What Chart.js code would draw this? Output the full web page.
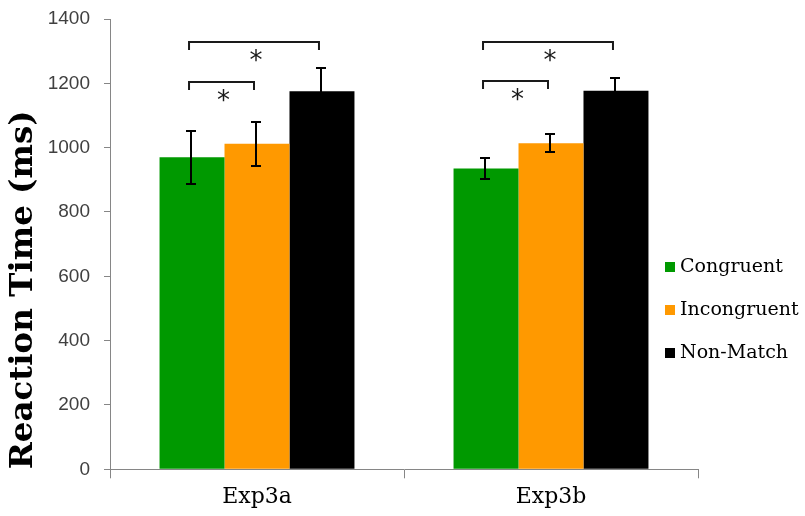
<!DOCTYPE html>
<html>
<head>
<meta charset="utf-8">
<script src="https://cdn.jsdelivr.net/npm/chart.js@4/dist/chart.umd.min.js"></script>
<style>
  html, body { margin: 0; padding: 0; background: #fff; }
  #wrap { width: 805px; height: 516px; }
</style>
</head>
<body>
<div id="wrap"><canvas id="c" width="805" height="516"></canvas></div>
<script>
// Mean reaction times (ms) and standard errors per condition
const experiments = ['Exp3a', 'Exp3b'];
const conditions = ['Congruent', 'Incongruent', 'Non-Match'];
const congruentRT = [970, 935];
const incongruentRT = [1012, 1014];
const nonMatchRT = [1175, 1177];
const congruentErr = [82, 34];
const incongruentErr = [68, 27];
const nonMatchErr = [73, 41];
const yTicks = [0, 200, 400, 600, 800, 1000, 1200, 1400];

// Significant pairwise comparisons: experiment index, condition pair, bracket height (ms)
const sigExperiment = [0, 0, 1, 1];
const sigFrom = [0, 0, 0, 0];
const sigTo = [2, 1, 2, 1];
const sigLevel = [1328, 1205, 1330, 1206];
const sigMark = ['*', '*', '*', '*'];

const colors = ['#009900', '#FF9900', '#000000'];
const means = [congruentRT, incongruentRT, nonMatchRT];
const errors = [congruentErr, incongruentErr, nonMatchErr];

const errorBars = {
  id: 'errorBars',
  afterDatasetsDraw(chart) {
    const ctx = chart.ctx;
    const y = chart.scales.y;
    ctx.save();
    ctx.strokeStyle = '#000';
    ctx.lineWidth = 2;
    chart.data.datasets.forEach((ds, i) => {
      const meta = chart.getDatasetMeta(i);
      meta.data.forEach((bar, j) => {
        const hi = Math.round(y.getPixelForValue(ds.data[j] + ds.errs[j]));
        const lo = Math.round(y.getPixelForValue(ds.data[j] - ds.errs[j]));
        const x = Math.round(bar.x) - 1;
        ctx.beginPath();
        ctx.moveTo(x, hi); ctx.lineTo(x, lo);
        ctx.moveTo(x - 5, hi); ctx.lineTo(x + 5, hi);
        ctx.moveTo(x - 5, lo); ctx.lineTo(x + 5, lo);
        ctx.stroke();
      });
    });
    ctx.restore();
  }
};

const sigBrackets = {
  id: 'sigBrackets',
  afterDatasetsDraw(chart) {
    const ctx = chart.ctx;
    const y = chart.scales.y;
    ctx.save();
    ctx.strokeStyle = '#1a1a1a';
    ctx.fillStyle = '#1a1a1a';
    ctx.lineWidth = 2;
    ctx.font = '26px "DejaVu Sans"';
    ctx.textAlign = 'center';
    ctx.textBaseline = 'middle';
    sigLevel.forEach((lvl, k) => {
      const e = sigExperiment[k];
      const x1 = chart.getDatasetMeta(sigFrom[k]).data[e].x - 3;
      const x2 = chart.getDatasetMeta(sigTo[k]).data[e].x - 3;
      const py = Math.round(y.getPixelForValue(lvl));
      ctx.beginPath();
      ctx.moveTo(x1, py + 8);
      ctx.lineTo(x1, py);
      ctx.lineTo(x2, py);
      ctx.lineTo(x2, py + 8);
      ctx.stroke();
      ctx.fillText(sigMark[k], (x1 + x2) / 2 + 2, py + 20);
    });
    ctx.restore();
  }
};

const sideLegend = {
  id: 'sideLegend',
  afterDraw(chart) {
    const ctx = chart.ctx;
    ctx.save();
    ctx.font = '19px "DejaVu Serif"';
    ctx.textBaseline = 'middle';
    ctx.textAlign = 'left';
    chart.data.datasets.forEach((ds, i) => {
      const cy = 267 + i * 43;
      ctx.fillStyle = ds.backgroundColor;
      ctx.fillRect(665, cy - 5, 10, 10);
      ctx.fillStyle = '#000';
      ctx.fillText(ds.label, 680, cy);
    });
    ctx.restore();
  }
};

new Chart(document.getElementById('c'), {
  type: 'bar',
  data: {
    labels: experiments,
    datasets: conditions.map((name, i) => ({
      label: name,
      data: means[i],
      errs: errors[i],
      backgroundColor: colors[i],
      borderWidth: 0,
      categoryPercentage: 0.663,
      barPercentage: 1.0
    }))
  },
  options: {
    responsive: false,
    animation: false,
    devicePixelRatio: 1,
    layout: { padding: { top: 19, right: 107, left: 0, bottom: 0 } },
    plugins: { legend: { display: false }, tooltip: { enabled: false } },
    scales: {
      x: {
        grid: { display: true, drawOnChartArea: false, drawTicks: true, tickLength: 9, color: '#868686', offset: true },
        border: { display: true, color: '#868686', width: 1 },
        ticks: { color: '#000', font: { family: 'DejaVu Serif', size: 22 }, padding: 6 },
        afterFit(scale) { scale.height = 46.7; }
      },
      y: {
        min: 0,
        max: 1400,
        afterBuildTicks(scale) { scale.ticks = yTicks.map(v => ({ value: v })); },
        grid: { display: true, drawOnChartArea: false, drawTicks: true, tickLength: 6, color: '#868686' },
        border: { display: true, color: '#868686', width: 1 },
        ticks: {
          color: '#404040',
          font: { family: 'Liberation Sans', size: 19 },
          padding: 14,
          callback: (v) => String(v)
        },
        title: {
          display: true,
          text: 'Reaction Time (ms)',
          align: 'start',
          color: '#000',
          font: { family: 'DejaVu Serif', size: 32.5, weight: 'bold' },
          padding: { top: 4, bottom: 0 }
        },
        afterFit(scale) {
          scale.width = 110;
          scale.paddingTop = 0;
          scale.paddingBottom = 0;
        }
      }
    }
  },
  plugins: [errorBars, sigBrackets, sideLegend]
});
</script>
</body>
</html>
